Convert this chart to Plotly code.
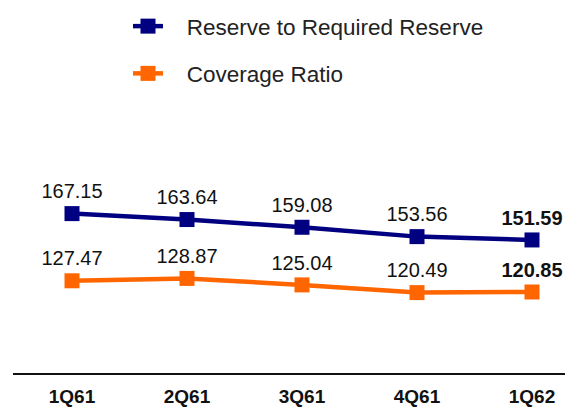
import plotly.graph_objects as go

categories = ["1Q61", "2Q61", "3Q61", "4Q61", "1Q62"]
reserve_ratio = [167.15, 163.64, 159.08, 153.56, 151.59]
coverage_ratio = [127.47, 128.87, 125.04, 120.49, 120.85]
series_names = ["   Reserve to Required Reserve", "   Coverage Ratio"]

def labels(vals):
    out = [f"{v:.2f}" for v in vals]
    out[-1] = f"<b>{out[-1]}</b>"
    return out

fig = go.Figure()
fig.add_trace(go.Scatter(
    x=categories, y=reserve_ratio, name=series_names[0], mode="lines+markers+text",
    line=dict(color="#000080", width=4.5), marker=dict(symbol="square", size=15, color="#000080"),
    text=labels(reserve_ratio), textposition="top center",
    textfont=dict(size=20, color="#111111", family="Liberation Sans, Arial"),
    legendgroup="a", cliponaxis=False,
))
fig.add_trace(go.Scatter(
    x=categories, y=coverage_ratio, name=series_names[1], mode="lines+markers+text",
    line=dict(color="#FF6600", width=4.5), marker=dict(symbol="square", size=15, color="#FF6600"),
    text=labels(coverage_ratio), textposition="top center",
    textfont=dict(size=20, color="#111111", family="Liberation Sans, Arial"),
    legendgroup="b", cliponaxis=False,
))

fig.update_layout(
    width=565, height=408,
    margin=dict(l=13, r=0, t=158, b=35, autoexpand=False),
    paper_bgcolor="white", plot_bgcolor="white",
    font=dict(family="Liberation Sans, Arial", color="#111111"),
    showlegend=True,
    legend=dict(
        xref="container", yref="container", x=128/565, y=1 - 5/408,
        xanchor="left", yanchor="top",
        font=dict(size=22.5, color="#222222"),
        traceorder="grouped", tracegroupgap=15,
        bgcolor="rgba(0,0,0,0)",
    ),
    xaxis=dict(
        type="category", range=[-0.513, 4.287],
        showline=True, linecolor="#111111", linewidth=2,
        showgrid=False, zeroline=False, ticks="",
        tickfont=dict(size=19, color="#111111", family="Liberation Sans, Arial", weight="bold"),
        ticklabelstandoff=5, tickangle=0,
    ),
    yaxis=dict(range=[73, 200], visible=False, showgrid=False, zeroline=False),
)

fig.write_html("out.html", config={"displayModeBar": False},
               post_script="document.body.style.margin='0';")
